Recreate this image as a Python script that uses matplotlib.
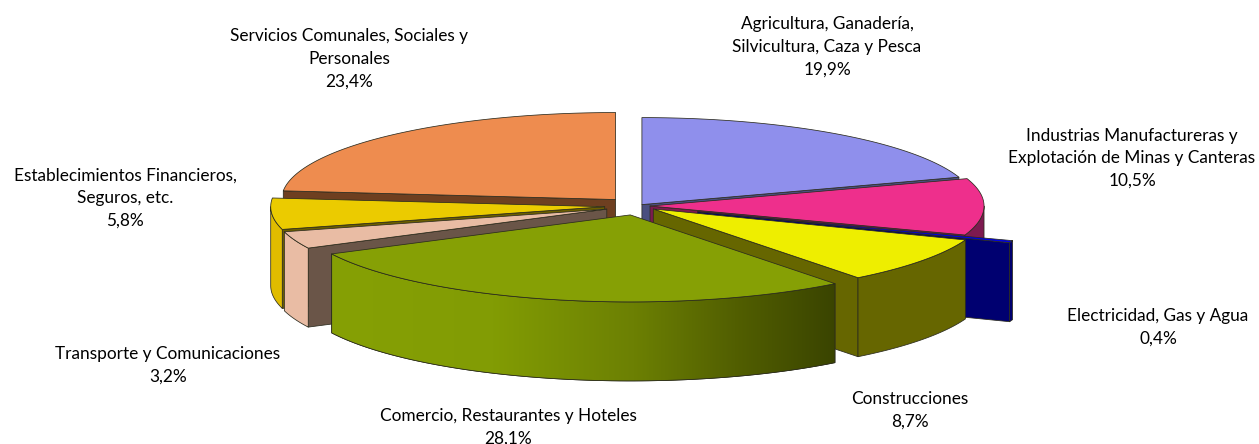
import numpy as np
import matplotlib
matplotlib.use("Agg")
import matplotlib.pyplot as plt
from matplotlib.patches import Polygon
from matplotlib.colors import LinearSegmentedColormap

plt.rcParams['font.family'] = ['Lato', 'DejaVu Sans']

names = ["Agricultura, Ganadería,\nSilvicultura, Caza y Pesca",
         "Industrias Manufactureras y\nExplotación de Minas y Canteras",
         "Electricidad, Gas y Agua",
         "Construcciones",
         "Comercio, Restaurantes y Hoteles",
         "Transporte y Comunicaciones",
         "Establecimientos Financieros,\nSeguros, etc.",
         "Servicios Comunales, Sociales y\nPersonales"]
values = [19.9, 10.5, 0.4, 8.7, 28.1, 3.2, 5.8, 23.4]

# styles
explode = [0.02, 0.036, 0.19, 0.057, 0.105, 0.10, 0.10, 0.10]
top_col = ['#8f8fec', '#ee2f8c', '#0000e6', '#eeee00', '#86a005', '#e9bca4', '#ebcb00', '#ee8c4f']
wall_col = ['#4a4f80', '#7d1a50', '#000070', '#666600', '#86a005', '#e9bca4', '#e0bc00', '#6e3f20']
face_col = ['#4a4f80', '#7d1a50', '#000070', '#666600', '#43490a', '#6a5548', '#6b5e00', '#6e3f20']
label_xy = [(827, 47), (1132, 158), (1158, 327), (910, 410), (508, 427), (168, 365), (125, 198), (349, 59)]
draw_order = [7, 0, 1, 6, 2, 5, 3, 4]

CX, CY, A, B, H = 638.0, 206.0, 334.0, 87.0, 79.0
EDGE = dict(edgecolor='#2b2b1e', linewidth=0.55, joinstyle='round')

fig = plt.figure(figsize=(12.59, 4.44), dpi=100)
ax = fig.add_axes([0, 0, 1, 1])
ax.set_axis_off()

edges = np.concatenate([[0], np.cumsum(values)]) / np.sum(values) * 360.0


def rim(cx, cy, t):
    r = np.radians(t)
    return np.column_stack([cx + A * np.sin(r), cy - B * np.cos(r)])


for i in draw_order:
    t0, t1 = edges[i], edges[i + 1]
    mid = np.radians((t0 + t1) / 2)
    cx = CX + explode[i] * A * np.sin(mid)
    cy = CY - explode[i] * A * (B / A) * np.cos(mid)
    apex = np.array([[cx, cy]])
    down = np.array([0, H])
    z = 2 + draw_order.index(i) * 3

    # outer wall (front half only)
    w0, w1 = max(t0, 90), min(t1, 270)
    wall_poly = None
    if w1 > w0:
        pts = rim(cx, cy, np.linspace(w0, w1, 80))
        wall_poly = np.vstack([pts, (pts + down)[::-1]])

    # radial faces turned towards the viewer
    for t, visible in ((t0, t0 > 180), (t1, t1 < 180)):
        if visible:
            p = rim(cx, cy, np.array([t]))
            quad = np.vstack([apex, p, p + down, apex + down])
            ax.add_patch(Polygon(quad, closed=True, facecolor=face_col[i], zorder=z, **EDGE))

    if wall_poly is not None:
        wp = Polygon(wall_poly, closed=True, facecolor=wall_col[i], zorder=z + 1, **EDGE)
        ax.add_patch(wp)
        if i == 4:  # horizontal gradient on the large slice
            cmap = LinearSegmentedColormap.from_list(
                'g', [(0, '#86a005'), (0.32, '#829c04'), (0.6, '#6c8003'), (0.8, '#525f01'), (1, '#3a4400')])
            x0, x1 = wall_poly[:, 0].min(), wall_poly[:, 0].max()
            y0, y1 = wall_poly[:, 1].min(), wall_poly[:, 1].max()
            im = ax.imshow(np.linspace(0, 1, 256)[None, :], extent=(x0, x1, y1, y0),
                           cmap=cmap, aspect='auto', zorder=z + 1.5)
            clip = Polygon(wall_poly, closed=True, transform=ax.transData)
            im.set_clip_path(clip)
            ax.add_patch(Polygon(wall_poly, closed=True, facecolor='none', zorder=z + 1.6, **EDGE))

    # top surface
    arc = rim(cx, cy, np.linspace(t0, t1, 120))
    ax.add_patch(Polygon(np.vstack([apex, arc]), closed=True, facecolor=top_col[i], zorder=z + 2, **EDGE))

for n, v, (x, y) in zip(names, values, label_xy):
    s = n + "\n" + f"{v:.1f}%".replace('.', ',')
    ax.text(x, y, s, ha='center', va='center', fontsize=12.4, color='black',
            linespacing=1.5, zorder=100)

ax.set_xlim(0, 1259)
ax.set_ylim(444, 0)
fig.savefig('out.png', dpi=100, facecolor='white')
